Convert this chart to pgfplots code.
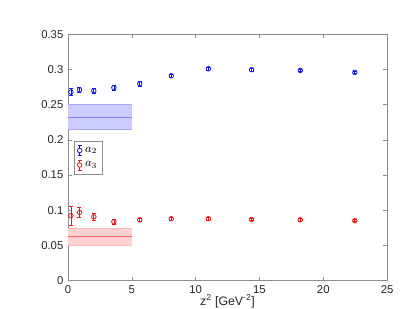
\documentclass[border=0pt]{standalone}
\usepackage{pgfplots}
\pgfplotsset{compat=1.18}
\usepackage{fontspec}
\setmainfont{Liberation Sans}
\definecolor{axgray}{RGB}{140,140,140}
\definecolor{txtgray}{RGB}{38,38,38}
\definecolor{mblue}{RGB}{20,20,240}
\definecolor{mred}{RGB}{240,20,20}
\pgfplotsset{
  errleg/.style={legend image code/.code={
    \draw[#1, line width=0.5pt] (0.28cm,-0.13cm) -- (0.28cm,0.13cm);
    \draw[#1, line width=0.5pt] (0.23cm,-0.13cm) -- (0.33cm,-0.13cm);
    \draw[#1, line width=0.5pt] (0.23cm,0.13cm) -- (0.33cm,0.13cm);
    \draw[#1, line width=0.6pt, fill=white] (0.28cm,0cm) circle (1.7pt);
  }}
}
\begin{document}
\begin{tikzpicture}[x=0.75pt,y=0.75pt]
\path[use as bounding box] (0,0) rectangle (411,308);
\begin{axis}[
  at={(53.3,38.7)}, anchor=south west,
  scale only axis, width=239.3pt, height=184.95pt,
  xmin=0, xmax=25, ymin=0, ymax=0.35,
  xtick={0,5,...,25}, ytick={0,0.05,...,0.35},
  yticklabels={0,0.05,0.1,0.15,0.2,0.25,0.3,0.35},
  tick align=inside, tick pos=both,
  major tick length=3pt,
  axis line style={axgray},
  every tick/.style={axgray},
  tick label style={font=\fontsize{8.5}{10}\selectfont, text=txtgray},
  /pgf/number format/assume math mode=true,
  xlabel={z\textsuperscript{2} [GeV\textsuperscript{-2}]},
  xlabel style={font=\fontsize{9.2}{10}\selectfont, text=txtgray, yshift=6pt},
  legend style={at={(0.019,0.565)}, anchor=north west, draw=axgray, font=\fontsize{9}{10}\selectfont, row sep=1.5pt, inner sep=2pt},
  legend cell align=left,
]
% bands
\addplot[draw=none, fill=blue!20, forget plot] coordinates {(0,0.2143) (5,0.2143) (5,0.2498) (0,0.2498)} -- cycle;
\addplot[blue!35, line width=0.5pt, forget plot] coordinates {(0,0.2143) (5,0.2143)};
\addplot[blue!35, line width=0.5pt, forget plot] coordinates {(0,0.2498) (5,0.2498)};
\addplot[blue!50, line width=0.9pt, forget plot] coordinates {(0,0.2318) (5,0.2318)};
\addplot[draw=none, fill=red!18, forget plot] coordinates {(0,0.0505) (5,0.0505) (5,0.0742) (0,0.0742)} -- cycle;
\addplot[red!28, line width=0.5pt, forget plot] coordinates {(0,0.0505) (5,0.0505)};
\addplot[red!28, line width=0.5pt, forget plot] coordinates {(0,0.0742) (5,0.0742)};
\addplot[red!60, line width=0.7pt, forget plot] coordinates {(0,0.0624) (5,0.0624)};
% data
\addplot[mblue, only marks, mark=o, mark size=1.7pt, line width=0.6pt, errleg=mblue,
  error bars/.cd, y dir=both, y explicit, error bar style={mblue, line width=0.5pt}, error mark options={rotate=90, mark size=1.5pt, mblue}]
  coordinates {
  (0.225,0.2677) +- (0,0.005)
  (0.899,0.2710) +- (0,0.004)
  (2.02,0.2697) +- (0,0.004)
  (3.59,0.2740) +- (0,0.004)
  (5.62,0.2796) +- (0,0.003)
  (8.09,0.2910) +- (0,0.002)
  (11.0,0.3009) +- (0,0.002)
  (14.38,0.2995) +- (0,0.0015)
  (18.2,0.2985) +- (0,0.0015)
  (22.47,0.2957) +- (0,0.0015)
  };
\addlegendentry{$a_2$}
\addplot[mred, only marks, mark=o, mark size=1.7pt, line width=0.6pt, errleg=mred,
  error bars/.cd, y dir=both, y explicit, error bar style={mred, line width=0.5pt}, error mark options={rotate=90, mark size=1.5pt, mred}]
  coordinates {
  (0.225,0.0923) +- (0,0.014)
  (0.899,0.0969) +- (0,0.0075)
  (2.02,0.0908) +- (0,0.005)
  (3.59,0.0837) +- (0,0.004)
  (5.62,0.0866) +- (0,0.002)
  (8.09,0.0880) +- (0,0.0015)
  (11.0,0.0880) +- (0,0.0015)
  (14.38,0.0870) +- (0,0.0015)
  (18.2,0.0866) +- (0,0.0015)
  (22.47,0.0852) +- (0,0.0015)
  };
\addlegendentry{$a_3$}
\end{axis}
\end{tikzpicture}
\end{document}
